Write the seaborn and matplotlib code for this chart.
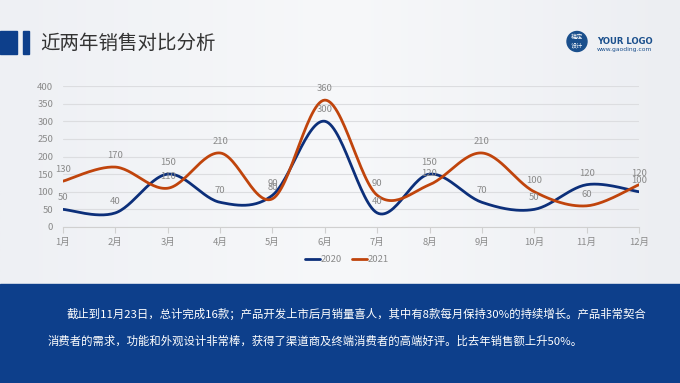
import numpy as np
import pandas as pd
import seaborn as sns
import matplotlib.pyplot as plt
from matplotlib.patches import Rectangle, Circle

months = ["1月", "2月", "3月", "4月", "5月", "6月", "7月", "8月", "9月", "10月", "11月", "12月"]
sales_2020 = [50, 40, 150, 70, 90, 300, 40, 150, 70, 50, 120, 100]
sales_2021 = [130, 170, 110, 210, 80, 360, 90, 120, 210, 100, 60, 120]
series_names = ["2020", "2021"]
y_ticks = [0, 50, 100, 150, 200, 250, 300, 350, 400]

title = "近两年销售对比分析"
note_line1 = "截止到11月23日，总计完成16款；产品开发上市后月销量喜人，其中有8款每月保持30%的持续增长。产品非常契合"
note_line2 = "消费者的需求，功能和外观设计非常棒，获得了渠道商及终端消费者的高端好评。比去年销售额上升50%。"

BLUE = "#0c2f7a"
ORANGE = "#c0440c"
BAND = "#0d3f8b"
GRAY = "#8a8a8a"

sns.set_theme(style="white")
plt.rcParams["font.family"] = ["Noto Sans CJK SC", "DejaVu Sans"]


def smooth(xs, ys, n=30):
    # Catmull-Rom path through the points, like the smoothed lines in office charts
    pts = np.column_stack([xs, ys]).astype(float)
    pts = np.vstack([pts[0], pts, pts[-1]])
    out = []
    for i in range(1, len(pts) - 2):
        p0, p1, p2, p3 = pts[i - 1], pts[i], pts[i + 1], pts[i + 2]
        c1 = p1 + (p2 - p0) / 6
        c2 = p2 - (p3 - p1) / 6
        t = np.linspace(0, 1, n)[:, None]
        seg = ((1 - t) ** 3) * p1 + 3 * ((1 - t) ** 2) * t * c1 + 3 * (1 - t) * t ** 2 * c2 + t ** 3 * p2
        out.append(seg if i == 1 else seg[1:])
    seg = np.vstack(out)
    return seg[:, 0], seg[:, 1]


W, H = 680, 383
fig = plt.figure(figsize=(W / 100, H / 100), dpi=100)

# background
bg = fig.add_axes([0, 0, 1, 1])
grad = np.linspace(0, 1, 256)[None, :]
bg.imshow(grad, extent=[0, W, 0, H], aspect="auto", cmap=plt.matplotlib.colors.LinearSegmentedColormap.from_list("bg", ["#eef0f4", "#f7f8fa", "#eceef2"]))
bg.add_patch(Rectangle((0, 0), W, H - 284, color=BAND, zorder=2))
bg.add_patch(Rectangle((0, H - 54), 17, 23, color=BAND, zorder=2))
bg.add_patch(Rectangle((23, H - 54), 6, 23, color=BAND, zorder=2))
bg.add_patch(Circle((577, H - 41.5), 10, color="#1a4f8c", zorder=2))
bg.set_xlim(0, W)
bg.set_ylim(0, H)
bg.axis("off")

fig.text(40 / W, 1 - 43 / H, title, fontsize=14, color="#333333", va="center", ha="left")
bg.text(577, H - 41.5, "稿定\n设计", fontsize=4.4, color="white", ha="center", va="center", linespacing=1.1, zorder=3)
fig.text(597 / W, 1 - 41 / H, "YOUR LOGO", fontsize=6.1, color="#1a4f8c", fontweight="bold", va="center", family=["DejaVu Sans"])
fig.text(597 / W, 1 - 49 / H, "www.gaoding.com", fontsize=4.3, color="#1a4f8c", va="center", family=["DejaVu Sans"])

fig.text(67 / W, 1 - 314 / H, note_line1, fontsize=8.2, color="white", va="center")
fig.text(48 / W, 1 - 341 / H, note_line2, fontsize=8.2, color="white", va="center")

# chart
ax = fig.add_axes([63 / W, 1 - 227 / H, (639 - 63) / W, (227 - 86) / H])
ax.patch.set_alpha(0)
x = np.arange(len(months))
rows = []
for name, vals in zip(series_names, [sales_2020, sales_2021]):
    sx, sy = smooth(x, vals)
    rows.append(pd.DataFrame({"x": sx, "y": sy, "year": name}))
curves = pd.concat(rows, ignore_index=True)
sns.lineplot(data=curves, x="x", y="y", hue="year", palette=[BLUE, ORANGE],
             linewidth=2, sort=False, estimator=None, ax=ax, legend=True)

for vals in [sales_2020, sales_2021]:
    for xi, v in zip(x, vals):
        ax.annotate(str(v), (xi, v), xytext=(0, 5), textcoords="offset points",
                    ha="center", va="bottom", fontsize=6.8, color=GRAY)

ax.set_xlim(0, len(months) - 1)
ax.set_ylim(0, 400)
ax.set_yticks(y_ticks)
ax.set_xticks(x)
ax.set_xticklabels(months)
ax.set_xlabel("")
ax.set_ylabel("")
ax.tick_params(axis="y", length=0, pad=7, labelsize=6.8, labelcolor=GRAY)
ax.tick_params(axis="x", length=4, width=0.8, color="#d0d0d0", pad=4, labelsize=6.8, labelcolor=GRAY, bottom=True)
ax.yaxis.grid(True, color="#dcdde0", linewidth=0.8)
ax.set_axisbelow(True)
for s in ["top", "right", "left"]:
    ax.spines[s].set_visible(False)
ax.spines["bottom"].set_color("#d0d0d0")
ax.spines["bottom"].set_linewidth(0.8)

handles, labels = ax.get_legend_handles_labels()
ax.get_legend().remove()
leg = fig.legend(handles, labels, loc="center", bbox_to_anchor=(347 / W, 1 - 260 / H), ncol=2,
                 frameon=False, fontsize=6.8, handlelength=1.6, handletextpad=0.1, columnspacing=1.0)
for t in leg.get_texts():
    t.set_color(GRAY)

fig.savefig("out.png", dpi=100)
